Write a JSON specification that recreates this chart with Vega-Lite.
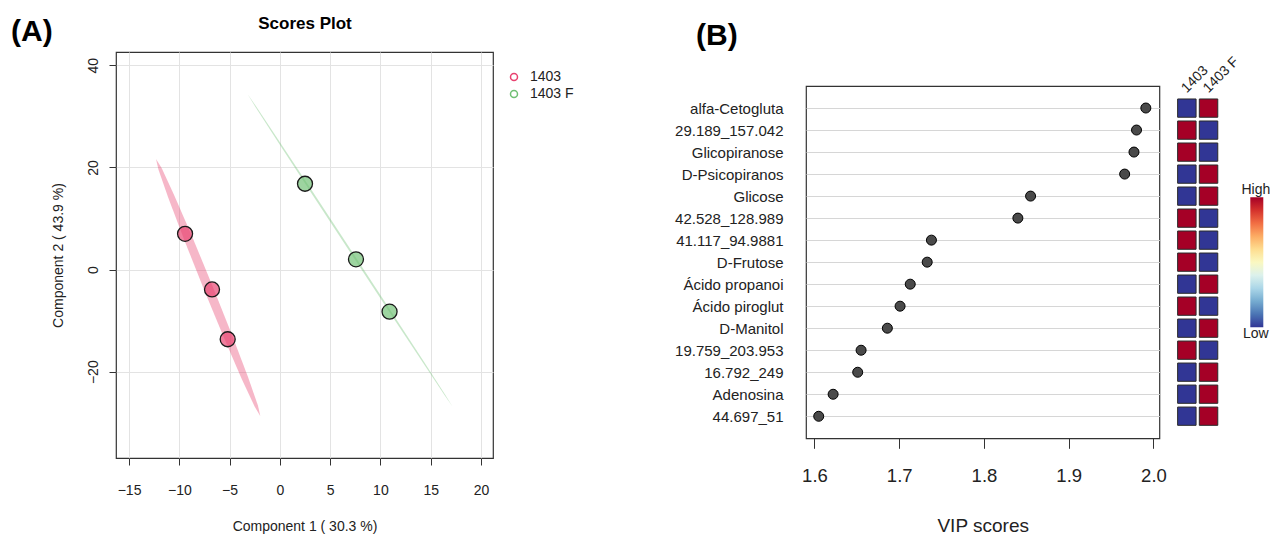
{
  "$schema": "https://vega.github.io/schema/vega-lite/v6.json",
  "background": "white",
  "padding": {"left": 10, "top": 13, "right": 0, "bottom": 0},
  "spacing": 98,
  "align": "none",
  "resolve": {"scale": {"fill": "independent", "color": "independent"}, "legend": {"fill": "independent", "color": "independent"}},
  "config": {
    "font": "Liberation Sans",
    "view": {"stroke": "#333333", "strokeWidth": 1.2},
    "axis": {"labelColor": "#222222", "titleColor": "#222222", "tickColor": "#333333", "titleFontWeight": "normal"}
  },
  "datasets": {
    "ellipse": [
      {"group": "1403", "i": 0, "x": -1.95, "y": -28.67},
      {"group": "1403", "i": 1, "x": -2.18, "y": -26.63},
      {"group": "1403", "i": 2, "x": -3.17, "y": -21.06},
      {"group": "1403", "i": 3, "x": -4.76, "y": -12.83},
      {"group": "1403", "i": 4, "x": -6.71, "y": -3.17},
      {"group": "1403", "i": 5, "x": -8.72, "y": 6.43},
      {"group": "1403", "i": 6, "x": -10.5, "y": 14.52},
      {"group": "1403", "i": 7, "x": -11.76, "y": 19.87},
      {"group": "1403", "i": 8, "x": -12.32, "y": 21.65},
      {"group": "1403", "i": 9, "x": -12.08, "y": 19.61},
      {"group": "1403", "i": 10, "x": -11.1, "y": 14.04},
      {"group": "1403", "i": 11, "x": -9.51, "y": 5.81},
      {"group": "1403", "i": 12, "x": -7.56, "y": -3.85},
      {"group": "1403", "i": 13, "x": -5.54, "y": -13.45},
      {"group": "1403", "i": 14, "x": -3.77, "y": -21.54},
      {"group": "1403", "i": 15, "x": -2.5, "y": -26.88},
      {"group": "1403 F", "i": 0, "x": 17.18, "y": -26.85},
      {"group": "1403 F", "i": 1, "x": 16.43, "y": -24.48},
      {"group": "1403 F", "i": 2, "x": 14.25, "y": -17.82},
      {"group": "1403 F", "i": 3, "x": 10.96, "y": -7.87},
      {"group": "1403 F", "i": 4, "x": 7.07, "y": 3.84},
      {"group": "1403 F", "i": 5, "x": 3.17, "y": 15.54},
      {"group": "1403 F", "i": 6, "x": -0.16, "y": 25.44},
      {"group": "1403 F", "i": 7, "x": -2.39, "y": 32.04},
      {"group": "1403 F", "i": 8, "x": -3.2, "y": 34.32},
      {"group": "1403 F", "i": 9, "x": -2.46, "y": 31.95},
      {"group": "1403 F", "i": 10, "x": -0.28, "y": 25.29},
      {"group": "1403 F", "i": 11, "x": 3.01, "y": 15.34},
      {"group": "1403 F", "i": 12, "x": 6.91, "y": 3.63},
      {"group": "1403 F", "i": 13, "x": 10.81, "y": -8.07},
      {"group": "1403 F", "i": 14, "x": 14.14, "y": -17.97},
      {"group": "1403 F", "i": 15, "x": 16.37, "y": -24.56}
    ],
    "scores": [
      {"group": "1403", "x": -9.43, "y": 7.0},
      {"group": "1403", "x": -6.75, "y": -3.9},
      {"group": "1403", "x": -5.19, "y": -13.65},
      {"group": "1403 F", "x": 2.5, "y": 16.8},
      {"group": "1403 F", "x": 7.57, "y": 2.0},
      {"group": "1403 F", "x": 10.91, "y": -8.25}
    ],
    "vip": [
      {"feature": "alfa-Cetogluta", "vip": 1.991},
      {"feature": "29.189_157.042", "vip": 1.98},
      {"feature": "Glicopiranose", "vip": 1.977},
      {"feature": "D-Psicopiranos", "vip": 1.966},
      {"feature": "Glicose", "vip": 1.855},
      {"feature": "42.528_128.989", "vip": 1.84},
      {"feature": "41.117_94.9881", "vip": 1.738},
      {"feature": "D-Frutose", "vip": 1.733},
      {"feature": "Ácido propanoi", "vip": 1.713},
      {"feature": "Ácido piroglut", "vip": 1.701},
      {"feature": "D-Manitol", "vip": 1.686},
      {"feature": "19.759_203.953", "vip": 1.655},
      {"feature": "16.792_249", "vip": 1.651},
      {"feature": "Adenosina", "vip": 1.622},
      {"feature": "44.697_51", "vip": 1.605}
    ],
    "heat": [
      {"feature": "alfa-Cetogluta", "group": "1403", "level": 0},
      {"feature": "alfa-Cetogluta", "group": "1403 F", "level": 1},
      {"feature": "29.189_157.042", "group": "1403", "level": 1},
      {"feature": "29.189_157.042", "group": "1403 F", "level": 0},
      {"feature": "Glicopiranose", "group": "1403", "level": 1},
      {"feature": "Glicopiranose", "group": "1403 F", "level": 0},
      {"feature": "D-Psicopiranos", "group": "1403", "level": 0},
      {"feature": "D-Psicopiranos", "group": "1403 F", "level": 1},
      {"feature": "Glicose", "group": "1403", "level": 0},
      {"feature": "Glicose", "group": "1403 F", "level": 1},
      {"feature": "42.528_128.989", "group": "1403", "level": 1},
      {"feature": "42.528_128.989", "group": "1403 F", "level": 0},
      {"feature": "41.117_94.9881", "group": "1403", "level": 1},
      {"feature": "41.117_94.9881", "group": "1403 F", "level": 0},
      {"feature": "D-Frutose", "group": "1403", "level": 1},
      {"feature": "D-Frutose", "group": "1403 F", "level": 0},
      {"feature": "Ácido propanoi", "group": "1403", "level": 0},
      {"feature": "Ácido propanoi", "group": "1403 F", "level": 1},
      {"feature": "Ácido piroglut", "group": "1403", "level": 1},
      {"feature": "Ácido piroglut", "group": "1403 F", "level": 0},
      {"feature": "D-Manitol", "group": "1403", "level": 0},
      {"feature": "D-Manitol", "group": "1403 F", "level": 1},
      {"feature": "19.759_203.953", "group": "1403", "level": 1},
      {"feature": "19.759_203.953", "group": "1403 F", "level": 0},
      {"feature": "16.792_249", "group": "1403", "level": 0},
      {"feature": "16.792_249", "group": "1403 F", "level": 1},
      {"feature": "Adenosina", "group": "1403", "level": 0},
      {"feature": "Adenosina", "group": "1403 F", "level": 1},
      {"feature": "44.697_51", "group": "1403", "level": 0},
      {"feature": "44.697_51", "group": "1403 F", "level": 1}
    ]
  },
  "hconcat": [
    {
      "resolve": {"scale": {"fill": "independent"}, "legend": {"fill": "independent"}},
      "hconcat": [
        {
          "width": 377,
          "height": 406,
          "title": {"text": "(A)", "anchor": "start", "frame": "bounds", "dx": -40, "offset": -33, "fontSize": 30, "fontWeight": "bold", "color": "black"},
          "resolve": {"axis": {"x": "independent"}},
          "layer": [
            {
              "data": {"name": "ellipse"},
              "mark": {"type": "line", "interpolate": "linear-closed", "strokeWidth": 0, "strokeOpacity": 0, "fillOpacity": 0.38},
              "encoding": {
                "x": {"field": "x", "type": "quantitative",
                  "scale": {"domain": [-16.3, 21.2], "nice": false, "zero": false},
                  "axis": {"values": [-15, -10, -5, 0, 5, 10, 15, 20], "tickSize": 7, "labelPadding": 18, "labelFontSize": 14, "title": "Component 1 ( 30.3 %)", "titleFontSize": 14, "titlePadding": 22, "grid": true, "gridColor": "#e3e3e3", "domain": false}},
                "y": {"field": "y", "type": "quantitative",
                  "scale": {"domain": [-36.9, 42.6], "nice": false, "zero": false},
                  "axis": {"values": [-20, 0, 20, 40], "labelAngle": -90, "labelAlign": "center", "labelBaseline": "bottom", "tickSize": 7, "labelPadding": 9, "labelFontSize": 14, "title": "Component 2 ( 43.9 %)", "titleFontSize": 14, "titlePadding": 21, "grid": true, "gridColor": "#e3e3e3", "domain": false}},
                "fill": {"field": "group", "type": "nominal", "scale": {"domain": ["1403", "1403 F"], "range": ["#e8416f", "#6fbf73"]},
                  "legend": {"orient": "none", "legendX": 391, "legendY": 18, "title": null, "symbolType": "circle", "symbolSize": 49, "labelFontSize": 14, "labelOffset": 9, "rowPadding": 3, "labelColor": "#222222", "padding": 0,
                    "encoding": {"symbols": {"fill": {"value": "transparent"}, "fillOpacity": {"value": 0}, "strokeOpacity": {"value": 1}, "opacity": {"value": 1}, "strokeWidth": {"value": 1.5}, "stroke": {"value": {"expr": "datum.value == '1403' ? '#e8416f' : '#6fbf73'"}}}}}},
                "detail": {"field": "group"},
                "order": {"field": "i", "type": "quantitative"}
              }
            },
            {
              "data": {"name": "scores"},
              "mark": {"type": "point", "shape": "circle", "filled": true, "size": 225, "stroke": "#1a1a1a", "strokeWidth": 1.3, "fillOpacity": 0.68, "strokeOpacity": 1, "opacity": 1},
              "encoding": {
                "x": {"field": "x", "type": "quantitative",
                  "axis": {"orient": "top", "title": "Scores Plot", "labels": false, "ticks": false, "domain": false, "grid": false, "titleFontSize": 17, "titleFontWeight": "bold", "titleColor": "black", "titlePadding": 20}},
                "y": {"field": "y", "type": "quantitative"},
                "fill": {"field": "group", "type": "nominal",
                  "legend": {"orient": "none", "legendX": 391, "legendY": 18, "title": null, "symbolType": "circle", "symbolSize": 49, "labelFontSize": 14, "labelOffset": 9, "rowPadding": 3, "labelColor": "#222222", "padding": 0,
                    "encoding": {"symbols": {"fill": {"value": "transparent"}, "fillOpacity": {"value": 0}, "strokeOpacity": {"value": 1}, "opacity": {"value": 1}, "strokeWidth": {"value": 1.5}, "stroke": {"value": {"expr": "datum.value == '1403' ? '#e8416f' : '#6fbf73'"}}}}}}
              }
            }
          ]
        }
      ]
    },
    {
      "spacing": 1,
      "resolve": {"scale": {"color": "independent"}, "legend": {"color": "independent"}},
      "vconcat": [
        {
          "width": 1,
          "height": 1,
          "view": {"stroke": null},
          "title": {"text": "(B)", "anchor": "start", "frame": "group", "dx": -110, "offset": 1, "fontSize": 30, "fontWeight": "bold", "color": "black"},
          "data": {"values": []},
          "mark": "point"
        },
        {
          "spacing": 9,
          "resolve": {"scale": {"color": "independent"}, "legend": {"color": "independent"}},
          "hconcat": [
            {
              "width": 353.4,
              "height": 352.3,
              "data": {"name": "vip"},
              "mark": {"type": "point", "shape": "circle", "filled": true, "size": 100, "fill": "#4a4a4a", "stroke": "black", "strokeWidth": 1, "opacity": 1},
              "encoding": {
                "x": {"field": "vip", "type": "quantitative",
                  "scale": {"domain": [1.59, 2.007], "nice": false, "zero": false},
                  "axis": {"values": [1.6, 1.7, 1.8, 1.9, 2.0], "format": ".1f", "tickSize": 10, "grid": false, "domain": false, "labelFontSize": 18.5, "labelPadding": 18, "title": "VIP scores", "titleFontSize": 19, "titlePadding": 32}},
                "y": {"field": "feature", "type": "nominal",
                  "sort": ["alfa-Cetogluta", "29.189_157.042", "Glicopiranose", "D-Psicopiranos", "Glicose", "42.528_128.989", "41.117_94.9881", "D-Frutose", "Ácido propanoi", "Ácido piroglut", "D-Manitol", "19.759_203.953", "16.792_249", "Adenosina", "44.697_51"],
                  "scale": {"type": "point", "padding": 1},
                  "axis": {"title": null, "ticks": false, "domain": false, "grid": true, "gridColor": "#d6d6d6", "labelFontSize": 15, "labelPadding": 23, "labelColor": "#222222"}}
              }
            },
            {
              "width": 43.4,
              "height": 352.3,
              "view": {"stroke": null},
              "data": {"name": "heat"},
              "mark": {"type": "rect", "stroke": "#2a2a2a", "strokeWidth": 1},
              "encoding": {
                "x": {"field": "group", "type": "nominal",
                  "scale": {"type": "band", "domain": ["1403", "1403 F"], "paddingInner": 0.15, "paddingOuter": 0.075},
                  "axis": {"orient": "top", "title": null, "labelAngle": -45, "labelAlign": "left", "labelBaseline": "bottom", "labelOffset": 2, "labelPadding": -9, "ticks": false, "domain": false, "labelFontSize": 14, "labelColor": "#222222"}},
                "y": {"field": "feature", "type": "nominal",
                  "sort": ["alfa-Cetogluta", "29.189_157.042", "Glicopiranose", "D-Psicopiranos", "Glicose", "42.528_128.989", "41.117_94.9881", "D-Frutose", "Ácido propanoi", "Ácido piroglut", "D-Manitol", "19.759_203.953", "16.792_249", "Adenosina", "44.697_51"],
                  "scale": {"type": "band", "paddingInner": 0.17, "paddingOuter": 0.59},
                  "axis": null},
                "color": {"field": "level", "type": "quantitative",
                  "scale": {"scheme": "redyellowblue", "reverse": true, "domain": [0, 1]},
                  "legend": {"orient": "none", "legendX": 74.3, "legendY": 111.3, "title": null, "direction": "vertical", "gradientLength": 130, "gradientThickness": 13, "values": [0, 1], "labelExpr": "datum.value >= 1 ? 'High' : 'Low'", "labelFontSize": 14, "labelOffset": -7.5, "labelColor": "#222222", "padding": 0, "gradientStrokeWidth": 0,
                    "encoding": {"labels": {"align": {"value": "center"}, "baseline": {"value": {"expr": "datum.perc >= 1 ? 'alphabetic' : 'top'"}}, "dy": {"value": {"expr": "datum.perc >= 1 ? -3 : 0"}}}}}}
              }
            }
          ]
        }
      ]
    }
  ]
}
